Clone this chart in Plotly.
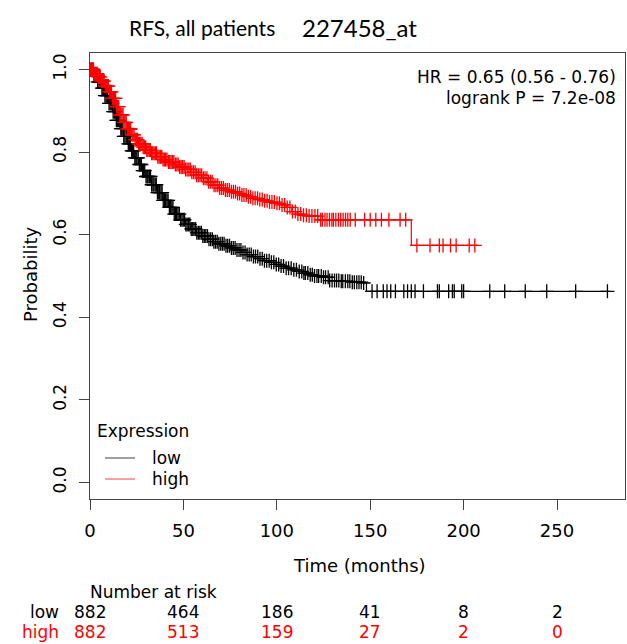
import numpy as np
import plotly.graph_objects as go

# ---- data ----
low_time = [0, 2, 4, 6, 8, 10, 12, 14, 16, 18, 20, 22, 24, 26, 28, 30, 33, 36, 39, 42, 45, 48,
            51, 54, 57, 60, 63, 66, 69, 72, 75, 78, 81, 84, 87, 90, 93, 96, 99, 102, 105, 108,
            111, 114, 117, 120, 124, 128, 134, 140, 146, 148, 278]
low_surv = [1.0, 0.985, 0.97, 0.955, 0.937, 0.918, 0.898, 0.877, 0.857, 0.838, 0.82, 0.803, 0.786,
            0.77, 0.755, 0.741, 0.721, 0.702, 0.683, 0.666, 0.650, 0.636, 0.625, 0.614, 0.605,
            0.597, 0.589, 0.583, 0.578, 0.573, 0.568, 0.563, 0.557, 0.552, 0.547, 0.542, 0.537,
            0.533, 0.528, 0.524, 0.519, 0.515, 0.511, 0.507, 0.503, 0.500, 0.497, 0.489, 0.487,
            0.485, 0.483, 0.463, 0.463]

high_time = [0, 2, 4, 6, 8, 10, 12, 14, 16, 18, 20, 22, 24, 26, 28, 30, 33, 36, 39, 42, 45, 48,
             51, 54, 57, 60, 63, 66, 69, 72, 75, 78, 81, 84, 87, 90, 93, 96, 99, 102, 105, 108,
             111, 114, 117, 122, 172, 208]
high_surv = [1.0, 0.99, 0.982, 0.972, 0.96, 0.946, 0.93, 0.91, 0.89, 0.872, 0.856, 0.842, 0.83,
             0.82, 0.812, 0.805, 0.797, 0.789, 0.782, 0.776, 0.77, 0.764, 0.758, 0.751, 0.744,
             0.737, 0.728, 0.72, 0.713, 0.708, 0.704, 0.700, 0.696, 0.692, 0.688, 0.685, 0.682,
             0.679, 0.676, 0.672, 0.666, 0.656, 0.650, 0.647, 0.645, 0.636, 0.574, 0.574]

low_censor = [0.5, 1, 1.6, 2.1, 2.5, 3.2, 3.6, 4.1, 4.8, 5.3, 5.7, 6.4, 6.9, 7.3, 8, 8.6, 9.1, 9.5,
              10.2, 10.8, 11.3, 11.9, 12.4, 13, 13.5, 14.1, 14.7, 15.2, 15.8, 16.5, 17, 17.6, 18.1,
              18.7, 19.4, 19.9, 20.5, 21.1, 21.6, 22.3, 22.8, 23.4, 24, 24.6, 25.1, 25.8, 26.4,
              26.9, 27.5, 28.2, 28.7, 29.3, 30, 30.6, 31.1, 31.8, 32.4, 33, 33.7, 34.2, 34.9, 35.5,
              36.1, 36.8, 37.3, 38, 38.6, 39.2, 39.9, 40.5, 41.2, 41.8, 42.5, 43.1, 43.8, 44.4,
              45.1, 45.8, 46.4, 47.1, 47.8, 48.5, 49.2, 49.9, 50.6, 51.3, 52, 52.8, 53.5, 54.2, 55,
              55.7, 56.5, 57.2, 58, 58.8, 59.6, 60.4, 61.2, 62, 62.9, 63.7, 64.6, 65.5, 66.3, 67.2,
              68.1, 69, 70, 70.9, 71.8, 72.8, 73.7, 74.7, 75.7, 76.7, 77.7, 78.7, 79.8, 80.8, 81.9,
              83, 84.1, 85.2, 86.3, 87.5, 88.6, 89.8, 91, 92.2, 93.4, 94.6, 95.9, 97.1, 98.4, 99.7,
              101, 102.3, 103.6, 105, 106.3, 107.7, 109.1, 110.5, 112, 113.4, 114.5, 115.3, 116.6,
              117.9, 119, 120.2, 121.5, 122.4, 123.8, 125, 126.1, 127.5, 128.3, 129.6, 130.9, 132,
              133.2, 134.5, 135.3, 136.7, 138, 139.1, 140.4, 141.5, 142.8, 144, 145.2, 146.5,
              151, 153.7, 157, 159, 161, 163.5, 168, 170, 172, 174, 178.5, 186, 187, 192, 194,
              195, 199, 200, 214, 222, 233, 244.5, 260, 277]
high_censor = [0.4, 0.9, 1.4, 1.9, 2.4, 2.9, 3.4, 3.9, 4.4, 5, 5.5, 6, 6.6, 7.1, 7.6, 8.2, 8.7, 9.3,
               9.8, 10.4, 10.9, 11.5, 12, 12.6, 13.1, 13.7, 14.3, 14.8, 15.4, 16, 16.5, 17.1, 17.7,
               18.2, 18.8, 19.4, 20, 20.6, 21.2, 21.8, 22.4, 23, 23.6, 24.2, 24.8, 25.4, 26, 26.6,
               27.2, 27.9, 28.5, 29.1, 29.8, 30.4, 31, 31.7, 32.3, 33, 33.6, 34.3, 35, 35.6, 36.3,
               37, 37.7, 38.4, 39.1, 39.8, 40.5, 41.2, 42, 42.7, 43.4, 44.2, 44.9, 45.7, 46.5, 47.2,
               48, 48.8, 49.6, 50.4, 51.2, 52, 52.9, 53.7, 54.5, 55.4, 56.3, 57.1, 58, 58.9, 59.8,
               60.7, 61.6, 62.6, 63.5, 64.5, 65.4, 66.4, 67.4, 68.4, 69.4, 70.4, 71.4, 72.5, 73.5,
               74.6, 75.7, 76.8, 77.9, 79, 80.1, 81.3, 82.4, 83.6, 84.8, 86, 87.2, 88.4, 89.7, 90.9,
               92.2, 93.5, 94.8, 96.1, 97.4, 98.7, 100.1, 101.4, 102.8, 104.2, 105.6, 107, 108.4,
               109.9, 111.3, 112.8, 114.3, 115.8, 117.3, 118.8, 120.4, 121.9, 123.5, 124.4, 125.8,
               126.9, 128.2, 129.5, 130.3, 131.6, 133, 134.2, 135.5, 136.8, 138, 139.3, 142, 147,
               150, 153, 156, 160, 166, 169, 175, 182, 187, 189, 193, 196, 203, 206]

risk_times = [0, 50, 100, 150, 200, 250]
risk_low = [882, 464, 186, 41, 8, 2]
risk_high = [882, 513, 159, 27, 2, 0]

x_ticks = [0, 50, 100, 150, 200, 250]
y_ticks = [0.0, 0.2, 0.4, 0.6, 0.8, 1.0]
y_ticktext = ["0.0", "0.2", "0.4", "0.6", "0.8", "1.0"]

title_left = "RFS, all patients"
title_right = "227458_at"
hr_text = "HR = 0.65 (0.56 - 0.76)"
p_text = "logrank P = 7.2e-08"
group_names = ["low", "high"]
colors = ["#000000", "#ff0000"]
legend_colors = ["#808080", "#ff8080"]

FONT = "DejaVu Sans"


def step_lookup(times, surv, pts):
    t = np.asarray(times, float)
    s = np.asarray(surv, float)
    idx = np.searchsorted(t, np.asarray(pts, float), side="right") - 1
    return s[idx]


fig = go.Figure()
for tm, sv, cens, col, name in [(low_time, low_surv, low_censor, colors[0], group_names[0]),
                                 (high_time, high_surv, high_censor, colors[1], group_names[1])]:
    fig.add_trace(go.Scatter(x=tm, y=sv, mode="lines", line=dict(color=col, width=1.2, shape="hv"),
                             showlegend=False, name=name, hoverinfo="skip"))
    fig.add_trace(go.Scatter(x=cens, y=step_lookup(tm, sv, cens), mode="markers",
                             marker=dict(symbol="cross-thin-open", size=10, color=col,
                                         line=dict(color=col, width=1.3)),
                             showlegend=False, name=name))

fig.update_layout(
    width=627, height=644,
    margin=dict(l=90, r=2, t=53, b=145),
    paper_bgcolor="white", plot_bgcolor="white",
    showlegend=False,
    font=dict(family=FONT, size=17, color="#000000"),
)
fig.update_xaxes(range=[0, 286.4], tickvals=x_ticks, ticks="outside", ticklen=10, tickcolor="#444",
                 showline=True, mirror=True, linecolor="#444", linewidth=1, showgrid=False,
                 zeroline=False, tickfont=dict(size=18, family=FONT), ticklabelstandoff=5)
fig.update_yaxes(range=[-0.04, 1.04], tickvals=y_ticks, ticktext=y_ticktext, ticks="outside",
                 ticklen=10, tickcolor="#444", tickangle=-90, ticklabelstandoff=6,
                 showline=True, mirror=True, linecolor="#444", linewidth=1, showgrid=False,
                 zeroline=False, tickfont=dict(size=17, family=FONT))


def px_x(px):
    return (px - 90) / 535.0


def px_y(py):
    return (499 - py) / 446.0


a = []
a.append(dict(text=title_left, x=px_x(127), y=px_y(28), xanchor="left", yanchor="middle",
              font=dict(family="Lato", size=21)))
a.append(dict(text=title_right, x=px_x(300), y=px_y(28), xanchor="left", yanchor="middle",
              font=dict(family="Lato", size=24)))
a.append(dict(text=hr_text, x=px_x(618), y=px_y(77), xanchor="right", yanchor="middle"))
a.append(dict(text=p_text, x=px_x(618), y=px_y(98), xanchor="right", yanchor="middle"))
a.append(dict(text="Probability", x=px_x(30), y=px_y(275), xanchor="center", yanchor="middle",
              textangle=-90, font=dict(size=18)))
a.append(dict(text="Time (months)", x=px_x(359), y=px_y(565), xanchor="center", yanchor="middle",
              font=dict(size=18)))
# legend
a.append(dict(text="Expression", x=px_x(95), y=px_y(431), xanchor="left", yanchor="middle"))
for i, (nm, yy) in enumerate(zip(group_names, [458, 479])):
    a.append(dict(text=nm, x=px_x(150), y=px_y(yy), xanchor="left", yanchor="middle"))
    fig.add_shape(type="line", xref="paper", yref="paper", x0=px_x(105), x1=px_x(135),
                  y0=px_y(yy), y1=px_y(yy), line=dict(color=legend_colors[i], width=1.5))
# number at risk
a.append(dict(text="Number at risk", x=px_x(88), y=px_y(592), xanchor="left", yanchor="middle"))
for row, (nm, vals, col, yy) in enumerate(zip(group_names, [risk_low, risk_high], colors, [612, 632])):
    a.append(dict(text=nm, x=px_x(61), y=px_y(yy), xanchor="right", yanchor="middle",
                  font=dict(color=col)))
    for t, v in zip(risk_times, vals):
        a.append(dict(text=str(v), x=t, xref="x", y=px_y(yy), xanchor="center", yanchor="middle",
                      font=dict(color=col)))

for d in a:
    d.setdefault("xref", "paper")
    d.setdefault("yref", "paper")
    d["showarrow"] = False
    fig.add_annotation(**d)

fig.write_html("out.html", config={"displayModeBar": False},
               post_script="document.body.style.margin='0';document.body.style.overflow='hidden';")
